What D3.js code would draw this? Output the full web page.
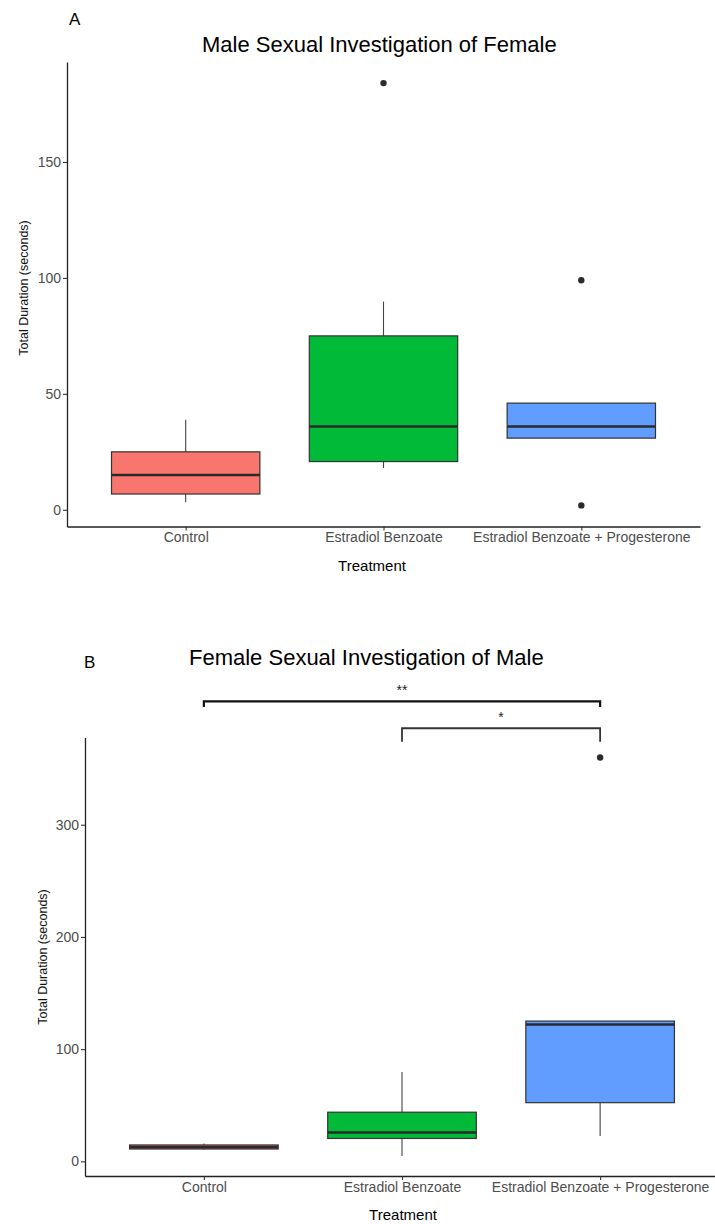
<!DOCTYPE html>
<html>
<head>
<meta charset="utf-8">
<script src="https://cdn.jsdelivr.net/npm/d3@7"></script>
<style>
  html, body { margin: 0; padding: 0; background: #fff; }
  svg { display: block; font-family: "Liberation Sans", Arial, Helvetica, sans-serif; }
</style>
</head>
<body>
<svg id="chart" width="715" height="1224"></svg>
<script>
// ---------- DATA ----------
const categories = ["Control", "Estradiol Benzoate", "Estradiol Benzoate + Progesterone"];
const boxColors = ["#F8766D", "#00BA38", "#619CFF"];

// Panel A: Male Sexual Investigation of Female
const aTitle = "Male Sexual Investigation of Female";
const aLow  = [3.2, 18.0, 30.9];
const aQ1   = [6.8, 20.8, 30.9];
const aMed  = [15.0, 35.9, 35.9];
const aQ3   = [25.0, 75.0, 46.0];
const aHigh = [38.8, 89.8, 46.0];
const aOut  = [[], [184], [99, 1.9]];
const aTicks = [0, 50, 100, 150];

// Panel B: Female Sexual Investigation of Male
const bTitle = "Female Sexual Investigation of Male";
const bLow  = [10.3, 4.7, 22.6];
const bQ1   = [11.0, 20.4, 52.3];
const bMed  = [12.7, 25.7, 122.0];
const bQ3   = [14.6, 43.8, 125.0];
const bHigh = [16.0, 79.6, 125.0];
const bOut  = [[], [], [360]];
const bTicks = [0, 100, 200, 300];

// significance brackets (panel B, data units)
const sigFrom   = ["Control", "Estradiol Benzoate"];
const sigTo     = ["Estradiol Benzoate + Progesterone", "Estradiol Benzoate + Progesterone"];
const sigY      = [410, 386];
const sigTipEnd = [405, 374];
const sigLabel  = ["**", "*"];

// ---------- DRAW ----------
const svg = d3.select("#chart");
const FONT = '"Liberation Sans", Arial, Helvetica, sans-serif';

function expandDomain(lows, outs, highs) {
  const all = lows.concat(highs, outs.flat());
  const mn = d3.min(all), mx = d3.max(all), r = mx - mn;
  return [mn - 0.05 * r, mx + 0.05 * r];
}

function panel(opt) {
  const g = svg.append("g");
  const x = d3.scaleLinear().domain([0.4, categories.length + 0.6]).range([opt.left, opt.right]);
  const y = d3.scaleLinear().domain(expandDomain(opt.low, opt.out, opt.high)).range([opt.bottom, opt.top]);
  const unit = x(2) - x(1);
  const bw = unit * 0.75;

  const rows = categories.map((c, i) => ({
    c, i, low: opt.low[i], q1: opt.q1[i], med: opt.med[i], q3: opt.q3[i], high: opt.high[i],
    out: opt.out[i], col: boxColors[i]
  }));

  const bx = g.selectAll("g.box").data(rows).enter().append("g").attr("class", "box");
  // whiskers
  bx.append("line")
    .attr("x1", d => x(d.i + 1)).attr("x2", d => x(d.i + 1))
    .attr("y1", d => y(d.q3)).attr("y2", d => y(d.high))
    .attr("stroke", "#444").attr("stroke-width", 1.1);
  bx.append("line")
    .attr("x1", d => x(d.i + 1)).attr("x2", d => x(d.i + 1))
    .attr("y1", d => y(d.q1)).attr("y2", d => y(d.low))
    .attr("stroke", "#444").attr("stroke-width", 1.1);
  // box
  bx.append("rect")
    .attr("x", d => x(d.i + 1) - bw / 2).attr("width", bw)
    .attr("y", d => y(d.q3)).attr("height", d => Math.max(0.5, y(d.q1) - y(d.q3)))
    .attr("fill", d => d.col).attr("stroke", "#333").attr("stroke-width", 1.2);
  // median
  bx.append("line")
    .attr("x1", d => x(d.i + 1) - bw / 2).attr("x2", d => x(d.i + 1) + bw / 2)
    .attr("y1", d => y(d.med)).attr("y2", d => y(d.med))
    .attr("stroke", "#2a2a2a").attr("stroke-width", 2.6);
  // outliers
  bx.each(function(d) {
    d3.select(this).selectAll("circle").data(d.out).enter().append("circle")
      .attr("cx", x(d.i + 1)).attr("cy", v => y(v)).attr("r", 3.2).attr("fill", "#2b2b2b");
  });

  // axes
  const yAxis = d3.axisLeft(y).tickValues(opt.ticks).tickSize(4).tickSizeOuter(0).tickPadding(2);
  const ya = g.append("g").attr("transform", `translate(${opt.left},0)`).call(yAxis);
  const xAxis = d3.axisBottom(x).tickValues(categories.map((c, i) => i + 1))
    .tickFormat(v => categories[v - 1]).tickSize(4).tickSizeOuter(0).tickPadding(2);
  const xa = g.append("g").attr("transform", `translate(0,${opt.bottom})`).call(xAxis);
  [ya, xa].forEach(a => {
    a.attr("font-family", FONT).attr("font-size", 14);
    a.select(".domain").attr("stroke", "#222").attr("stroke-width", 1.3);
    a.selectAll(".tick line").attr("stroke", "#333").attr("stroke-width", 1.1);
    a.selectAll(".tick text").attr("fill", "#4d4d4d");
  });

  // titles
  g.append("text").attr("x", opt.titleX).attr("y", opt.titleY)
    .attr("font-size", 22).attr("fill", "#000").text(opt.title);
  g.append("text").attr("x", opt.tagX).attr("y", opt.tagY)
    .attr("font-size", 17).attr("fill", "#000").text(opt.tag);
  g.append("text").attr("x", opt.xTitleX).attr("y", opt.xTitleY)
    .attr("text-anchor", "middle").attr("font-size", 15).attr("fill", "#000").text("Treatment");
  g.append("text")
    .attr("transform", `translate(${opt.yTitleX},${opt.yTitleY}) rotate(-90)`)
    .attr("text-anchor", "middle").attr("dy", "0.35em")
    .attr("font-size", 12.5).attr("fill", "#111").text("Total Duration (seconds)");

  return { g, x, y };
}

panel({
  left: 67, right: 700, top: 62, bottom: 526.5,
  low: aLow, q1: aQ1, med: aMed, q3: aQ3, high: aHigh, out: aOut, ticks: aTicks,
  title: aTitle, titleX: 202, titleY: 52, tag: "A", tagX: 69, tagY: 25,
  xTitleX: 372, xTitleY: 571, yTitleX: 24, yTitleY: 288
});

const pB = panel({
  left: 85, right: 719, top: 737.5, bottom: 1176,
  low: bLow, q1: bQ1, med: bMed, q3: bQ3, high: bHigh, out: bOut, ticks: bTicks,
  title: bTitle, titleX: 189, titleY: 665, tag: "B", tagX: 84, tagY: 668,
  xTitleX: 403, xTitleY: 1220, yTitleX: 43, yTitleY: 957
});

// significance brackets
const sig = sigFrom.map((f, i) => ({
  x1: pB.x(categories.indexOf(f) + 1), x2: pB.x(categories.indexOf(sigTo[i]) + 1),
  y: pB.y(sigY[i]), yb: pB.y(sigTipEnd[i]), label: sigLabel[i], i
}));
const sg = pB.g.selectAll("g.sig").data(sig).enter().append("g").attr("class", "sig");
sg.append("path")
  .attr("d", d => `M${d.x1},${d.yb}V${d.y}H${d.x2}V${d.yb}`)
  .attr("fill", "none").attr("stroke", d => d.i === 0 ? "#111" : "#333")
  .attr("stroke-width", d => d.i === 0 ? 2.2 : 1.8);
sg.append("text")
  .attr("x", d => (d.x1 + d.x2) / 2).attr("y", d => d.y - 6)
  .attr("text-anchor", "middle").attr("font-family", FONT).attr("font-size", 14)
  .attr("fill", "#222").text(d => d.label);
</script>
</body>
</html>
